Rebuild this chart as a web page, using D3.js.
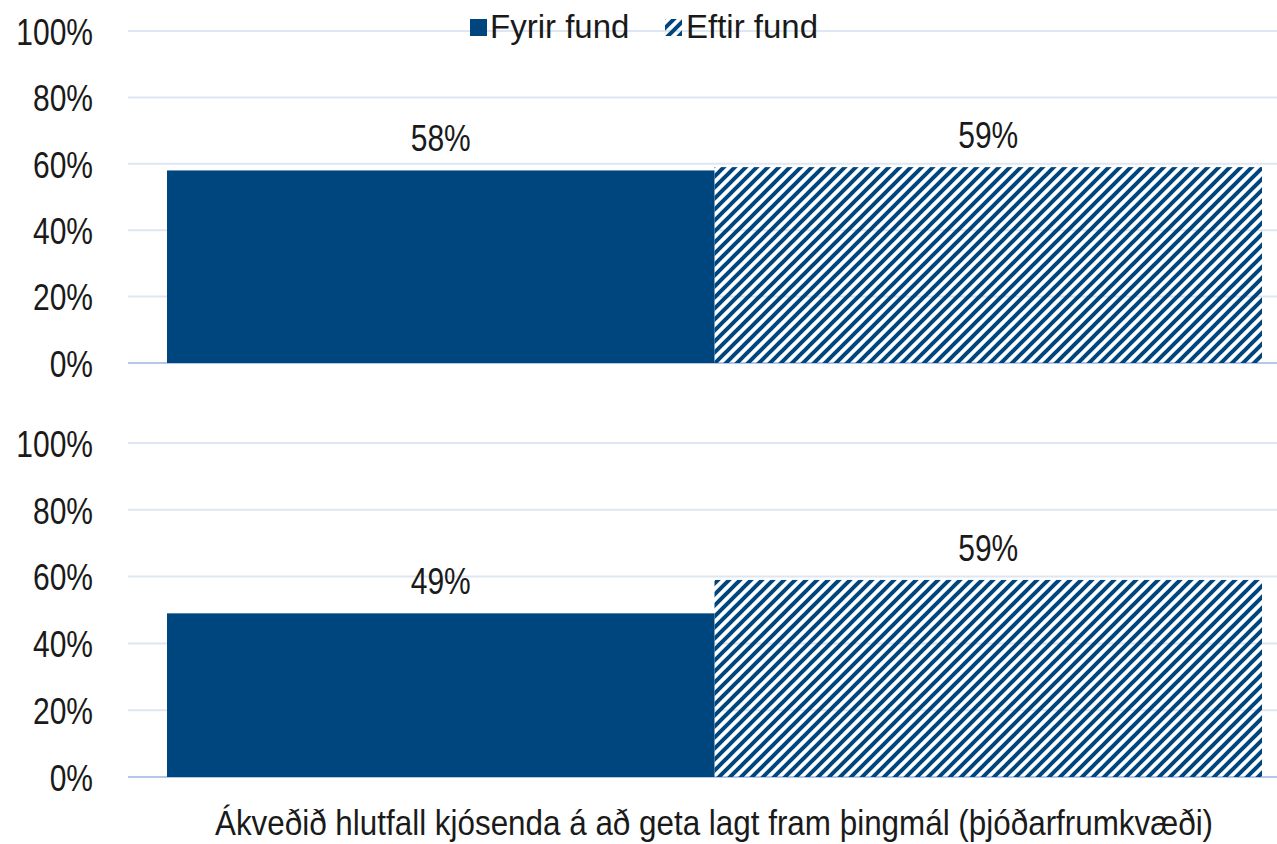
<!DOCTYPE html>
<html><head><meta charset="utf-8">
<script src="https://cdn.jsdelivr.net/npm/d3@7"></script>
<style>body{margin:0;background:#fff}svg{display:block}text{font-family:"Liberation Sans",Arial,sans-serif;fill:#1a1a1a}</style>
</head><body><svg id="c" width="1277" height="844"></svg>
<script>
const series = ["Fyrir fund", "Eftir fund"];
const topValues = [58, 59];
const bottomValues = [49, 59];
const tickValues = [0, 20, 40, 60, 80, 100];
const axisTitle = "Ákveðið hlutfall kjósenda á að geta lagt fram þingmál (þjóðarfrumkvæði)";

const svg = d3.select("#c");
const W = 1277;
const barColor = "#00467e";
const defs = svg.append("defs");
const pat = defs.append("pattern").attr("id","hatch").attr("patternUnits","userSpaceOnUse")
  .attr("width",11).attr("height",11);
pat.append("path").attr("d","M-2,2 L2,-2 M0,11 L11,0 M9,13 L13,9")
  .attr("stroke",barColor).attr("stroke-width",4);

const x = d3.scaleBand().domain(series).range([167, 1262]).paddingOuter(0).paddingInner(0);
const SY = 1.24;

function stretchedText(parent, tx, ty, size, sy, txt, anchor) {
  return parent.append("text")
    .attr("transform", `translate(${tx},${ty}) scale(1,${sy})`)
    .attr("text-anchor", anchor).attr("font-size", size).text(txt);
}

function panel(values, y0, y1) {
  const y = d3.scaleLinear().domain([0,100]).range([y1, y0]);
  const g = svg.append("g");
  g.selectAll("line.grid").data(tickValues).join("line")
    .attr("x1",128).attr("x2",W).attr("y1",d=>y(d)).attr("y2",d=>y(d))
    .attr("stroke", d=> d===0 ? "#b4c7e7" : "#dfe6f3").attr("stroke-width",2);
  const axis = d3.axisLeft(y).tickValues(tickValues).tickFormat(d=>d+"%").tickSize(0).tickPadding(0);
  const ag = g.append("g").attr("transform","translate(93,0)").call(axis);
  ag.select(".domain").remove();
  ag.selectAll("text").attr("font-size",30).attr("fill","#1a1a1a").attr("dy","0.36em")
    .attr("transform",`scale(1,${SY})`)
    .attr("font-family","'Liberation Sans',Arial,sans-serif");
  g.selectAll("rect.bar").data(values).join("rect")
    .attr("x",(d,i)=>x(series[i])).attr("width",x.bandwidth())
    .attr("y",d=>y(d)).attr("height",d=>y(0)-y(d))
    .attr("fill",(d,i)=> i===0 ? barColor : "url(#hatch)");
  values.forEach((d,i)=>{
    stretchedText(g, x(series[i])+x.bandwidth()/2, y(d)-19, 30, SY, d+"%", "middle");
  });
}
panel(topValues, 31, 363);
panel(bottomValues, 443, 777);

// legend
const lg = svg.append("g");
lg.append("rect").attr("x",470).attr("y",19).attr("width",17).attr("height",17).attr("fill",barColor);
lg.append("text").attr("x",490).attr("y",38).attr("font-size",33).text(series[0]);
lg.append("rect").attr("x",665).attr("y",19).attr("width",17).attr("height",17).attr("fill","url(#hatch)");
lg.append("text").attr("x",686).attr("y",38).attr("font-size",33).text(series[1]);

stretchedText(svg, 714, 835, 31.4, 1.1, axisTitle, "middle");
</script></body></html>
